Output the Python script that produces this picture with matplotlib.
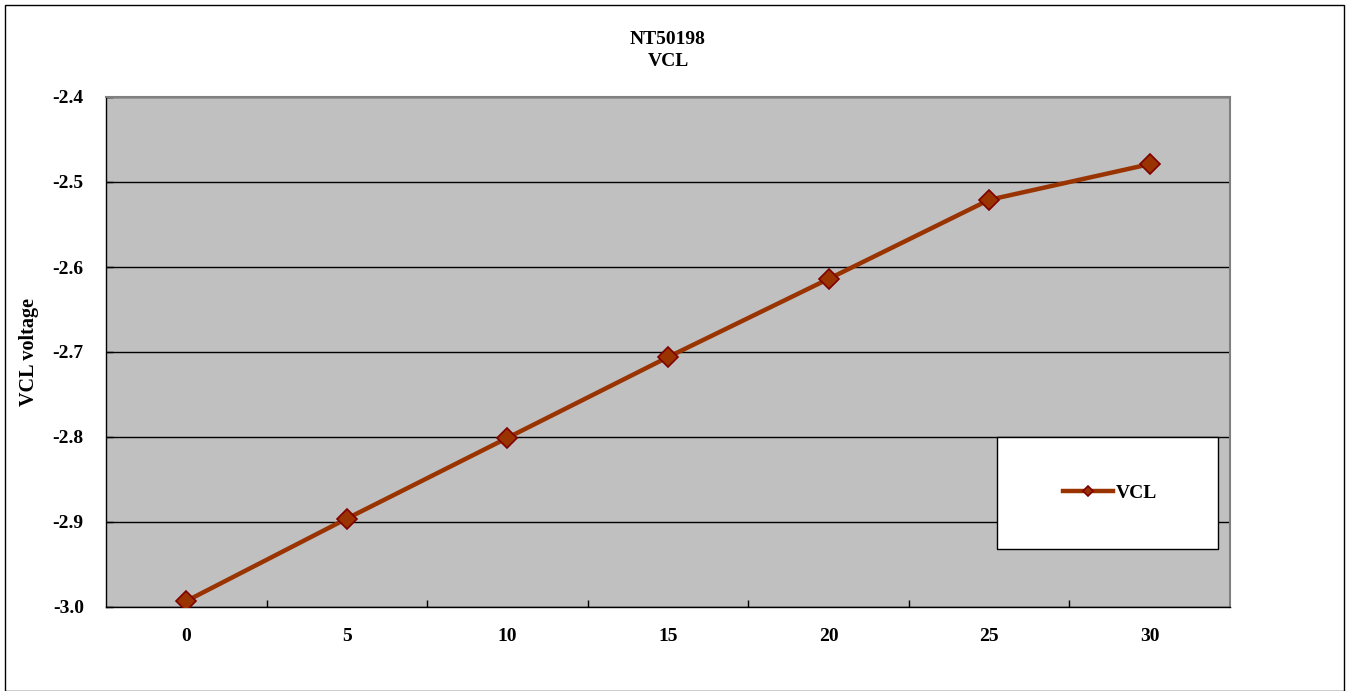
import numpy as np
import matplotlib
matplotlib.use("Agg")
import matplotlib.pyplot as plt
from matplotlib.patches import Rectangle

# VCL readings for the NT50198 part
temps = [0, 5, 10, 15, 20, 25, 30]
vcl = [-2.993, -2.896, -2.801, -2.706, -2.614, -2.521, -2.479]
yticks = [-3.0, -2.9, -2.8, -2.7, -2.6, -2.5, -2.4]
ytick_labels = ["-3.0", "-2.9", "-2.8", "-2.7", "-2.6", "-2.5", "-2.4"]

plt.rcParams['font.family'] = ['Liberation Serif', 'DejaVu Serif']
plt.rcParams['font.weight'] = 'bold'

W, H = 1351, 691
fig = plt.figure(figsize=(W / 100, H / 100), dpi=100)
fig.patch.set_facecolor('white')

# outer chart border
fig.patches.append(Rectangle((5 / W, 0), (1344 - 5) / W, 1 - 5 / H, transform=fig.transFigure,
                             fill=False, edgecolor='black', linewidth=1.0))

x0, x1, y0, y1 = 106, 1230, 97, 607
ax = fig.add_axes([x0 / W, 1 - y1 / H, (x1 - x0) / W, (y1 - y0) / H])
ax.set_facecolor('#C0C0C0')

ax.plot(temps, vcl, color='#993300', linewidth=3.2, marker='D', markersize=10,
        markerfacecolor='#993300', markeredgecolor='#800000', markeredgewidth=1.2,
        label='VCL', zorder=3)

ax.set_xlim(-2.5, 32.5)
ax.set_ylim(-3.0, -2.4)
ax.set_xticks(temps)
ax.set_xticklabels([str(t) for t in temps])
ax.set_xticks([t + 2.5 for t in temps[:-1]], minor=True)
ax.set_yticks(yticks)
ax.set_yticklabels(ytick_labels)

ax.tick_params(axis='x', which='major', length=0, pad=15, labelsize=14)
ax.tick_params(axis='x', which='minor', direction='in', length=5, width=1, color='black')
ax.tick_params(axis='y', which='major', direction='in', length=5, width=1, pad=16, labelsize=14)

ax.yaxis.grid(True, color='black', linewidth=1.0)
ax.set_axisbelow(True)
for side in ['top', 'right']:
    ax.spines[side].set_color('#808080')
    ax.spines[side].set_linewidth(1.5)
for side in ['left', 'bottom']:
    ax.spines[side].set_color('black')
    ax.spines[side].set_linewidth(1.0)

ax.set_ylabel('VCL voltage', fontsize=14.5, fontweight='bold')
ax.yaxis.set_label_coords((39 - x0) / (x1 - x0), 0.5)

fig.text(668 / W, 1 - 39 / H, 'NT50198', ha='center', va='center', fontsize=14, fontweight='bold')
fig.text(668 / W, 1 - 61 / H, 'VCL', ha='center', va='center', fontsize=14, fontweight='bold')

# legend box
lx0, lx1, ly0, ly1 = 997, 1218, 437, 549
box = Rectangle(((lx0 - x0) / (x1 - x0), (y1 - ly1) / (y1 - y0)),
                (lx1 - lx0) / (x1 - x0), (ly1 - ly0) / (y1 - y0),
                transform=ax.transAxes, facecolor='white', edgecolor='black',
                linewidth=1.0, zorder=4)
ax.add_patch(box)
leg = ax.legend(loc='center', bbox_to_anchor=((1110 - x0) / (x1 - x0), (y1 - 493) / (y1 - y0)),
                frameon=False, fontsize=14, markerscale=0.55,
                handlelength=2.6, handletextpad=0.15, borderaxespad=0)
leg.set_zorder(5)

fig.savefig('out.png', dpi=100)
